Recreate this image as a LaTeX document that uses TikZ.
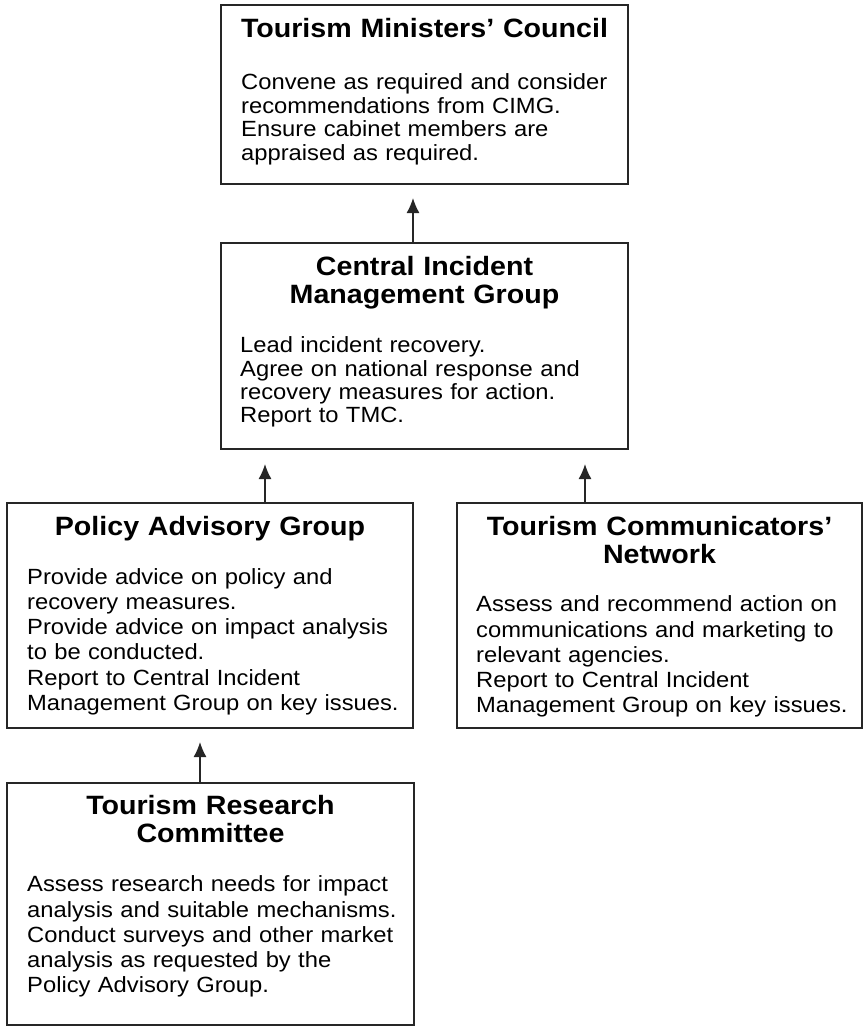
\documentclass[tikz,border=0pt]{standalone}
\usepackage{fontspec}
\setmainfont{Liberation Sans}[FakeStretch=1.08]
\usetikzlibrary{arrows.meta}

\begin{document}
\begin{tikzpicture}[x=1pt,y=-1pt,
  box/.style={draw=black!85, line width=1.6pt, inner sep=0pt},
  head/.style={font=\fontsize{26.5}{28}\selectfont\bfseries, align=center, text width=400pt, anchor=base, inner sep=0pt},
  body/.style={font=\fontsize{22}{23.4}\selectfont, align=left, text width=380pt, anchor=base west, inner sep=0pt},
  widebody/.style={body, font=\fontsize{22}{25.3}\selectfont},
  arr/.style={-{Latex[length=15pt,width=13pt]}, line width=1.4pt, draw=black!85}]

\useasboundingbox (0,0) rectangle (863,1027);

% the five boxes
\node[box, minimum width=407pt, minimum height=179pt] (tmc)  at (424.5,94.5) {};
\node[box, minimum width=407pt, minimum height=206pt] (cimg) at (424.5,346)  {};
\node[box, minimum width=406pt, minimum height=225pt] (pag)  at (210,615.5)  {};
\node[box, minimum width=405pt, minimum height=225pt] (tcn)  at (659.5,615.5) {};
\node[box, minimum width=407pt, minimum height=242pt] (trc)  at (210.5,904)  {};

% headings
\node[head] (tmchead)  at (424.5,37.7) {Tourism Ministers’ Council};
\node[head] (cimghead) at (424.5,275)  {Central Incident\\Management Group};
\node[head] (paghead)  at (210,535)    {Policy Advisory Group};
\node[head] (tcnhead)  at (659.5,535)  {Tourism Communicators’\\Network};
\node[head] (trchead)  at (210.5,814)  {Tourism Research\\Committee};

% tasks
\node[body] (tmctext) at (241,90) {Convene as required and consider\\
  recommendations from CIMG.\\Ensure cabinet members are\\appraised as required.};
\node[body] (cimgtext) at (240,352.7) {Lead incident recovery.\\
  Agree on national response and\\recovery measures for action.\\Report to TMC.};
\node[widebody] (pagtext) at (27,584) {Provide advice on policy and\\
  recovery measures.\\Provide advice on impact analysis\\to be conducted.\\
  Report to Central Incident\\Management Group on key issues.};
\node[widebody] (tcntext) at (476,611.7) {Assess and recommend action on\\
  communications and marketing to\\relevant agencies.\\
  Report to Central Incident\\Management Group on key issues.};
\node[widebody] (trctext) at (27,891.7) {Assess research needs for impact\\
  analysis and suitable mechanisms.\\Conduct surveys and other market\\
  analysis as requested by the\\Policy Advisory Group.};

% reporting lines
\coordinate (tip1) at (413,198);
\coordinate (tip2) at (265,464);
\coordinate (tip3) at (585,464);
\coordinate (tip4) at (200,742);
\draw[arr] (cimg.north -| tip1) -- (tip1);
\draw[arr] (pag.north -| tip2) -- (tip2);
\draw[arr] (tcn.north -| tip3) -- (tip3);
\draw[arr] (trc.north -| tip4) -- (tip4);

\end{tikzpicture}
\end{document}
